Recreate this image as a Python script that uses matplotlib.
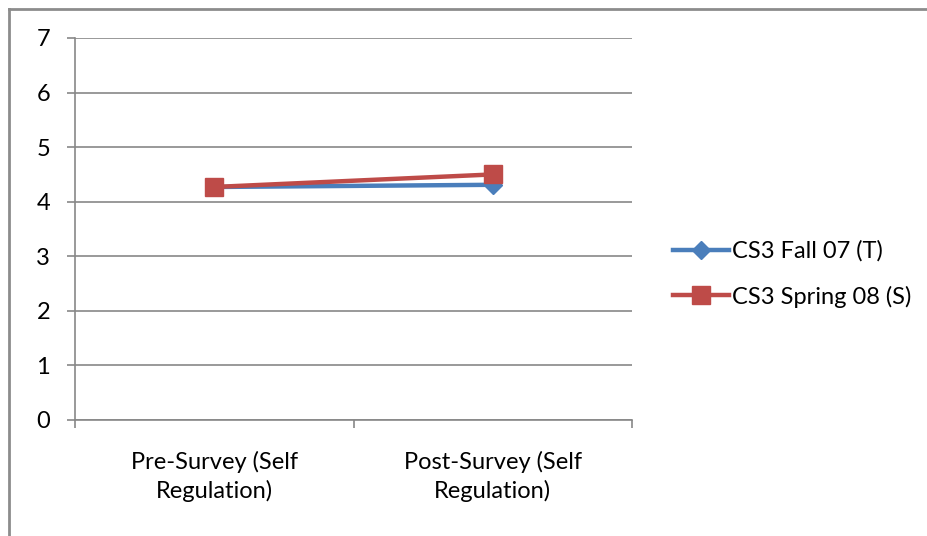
import matplotlib.pyplot as plt
from matplotlib.lines import Line2D

plt.rcParams['font.family'] = ['Lato', 'DejaVu Sans']

# Survey means per course offering
categories = ["Pre-Survey (Self\nRegulation)", "Post-Survey (Self\nRegulation)"]
fall07 = [4.27, 4.31]
spring08 = [4.27, 4.50]
series_names = ["CS3 Fall 07 (T)", "CS3 Spring 08 (S)"]
yticks = [0, 1, 2, 3, 4, 5, 6, 7]

blue = "#4A7EBB"
red = "#BE4B48"
grey = "#878787"
fs = 17

fig = plt.figure(figsize=(9.27, 5.36), dpi=100)
ax = fig.add_axes([75 / 927, 1 - 420 / 536, (632 - 75) / 927, (420 - 38) / 536])

x = [0.5, 1.5]
ax.plot(x, fall07, color=blue, lw=3.2, marker="D", ms=9, mec=blue, mfc=blue,
        label=series_names[0], zorder=3)
ax.plot(x, spring08, color=red, lw=3.2, marker="s", ms=13, mec=red, mfc=red,
        label=series_names[1], zorder=4)

ax.set_xlim(0, 2)
ax.set_ylim(0, 7)
ax.set_yticks(yticks)
ax.set_xticks([0, 1, 2])
ax.set_xticklabels([])
ax.set_xticks(x, minor=True)
ax.set_xticklabels(categories, minor=True, fontsize=fs, linespacing=1.4)
ax.tick_params(axis="x", which="minor", length=0, pad=22)
ax.tick_params(axis="x", which="major", length=6, width=1.2, color=grey, direction="out")
ax.tick_params(axis="y", length=6, width=1.2, color=grey, labelsize=fs, pad=12)
ax.yaxis.grid(True, color=grey, lw=1.2)
ax.set_axisbelow(True)
for side in ["top", "right"]:
    ax.spines[side].set_visible(False)
for side in ["left", "bottom"]:
    ax.spines[side].set_color(grey)
    ax.spines[side].set_linewidth(1.2)

handles = [
    Line2D([], [], color=blue, lw=3.2, marker="D", ms=9),
    Line2D([], [], color=red, lw=3.2, marker="s", ms=13),
]
fig.legend(handles, series_names, loc="center left",
           bbox_to_anchor=(656 / 927, 1 - 274 / 536), frameon=False,
           fontsize=fs, handlelength=2.4, handletextpad=0.1, labelspacing=1.0,
           borderpad=0.2)

# Outer chart border
fig.add_artist(Line2D([9 / 927, 9 / 927], [0, 1 - 9 / 536], color="#8c8c8c", lw=2,
                      transform=fig.transFigure))
fig.add_artist(Line2D([9 / 927, 1], [1 - 9 / 536, 1 - 9 / 536], color="#8c8c8c", lw=2,
                      transform=fig.transFigure))

fig.savefig("out.png", dpi=100)
